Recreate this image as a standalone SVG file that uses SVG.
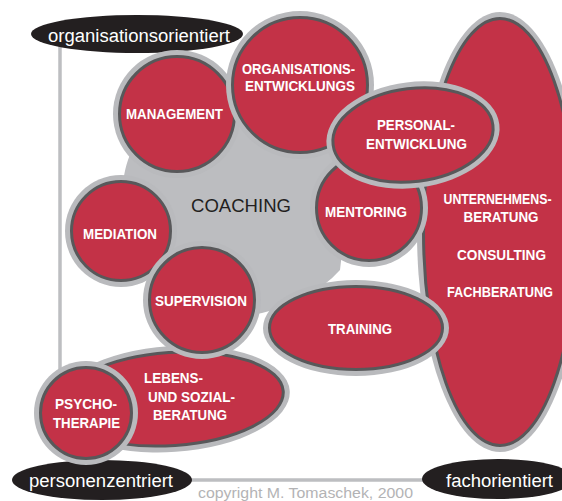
<svg xmlns="http://www.w3.org/2000/svg" width="562" height="501" viewBox="0 0 562 501">
<style>
.axis{stroke:#bdbec1;stroke-width:3.5;fill:none}
.halo{fill:#b9babd}
.body{fill:#c33247;stroke:#58585a;stroke-width:3}
.coach{fill:#bcbdc0}
.lbl{fill:#231f20}
.t{font-family:"Liberation Sans",Arial,Helvetica,sans-serif;font-weight:bold;font-size:15px;fill:#ffffff;text-anchor:middle}
.lt{font-family:"Liberation Sans",Arial,Helvetica,sans-serif;font-size:18px;fill:#ffffff;text-anchor:middle}
.ct{font-family:"Liberation Sans",Arial,Helvetica,sans-serif;font-size:19px;fill:#231f20;text-anchor:middle}
.cp{font-family:"Liberation Sans",Arial,Helvetica,sans-serif;font-size:14px;fill:#b3b3b5}
</style>
<g id="connectors">
<line class="axis" x1="60" y1="45" x2="60" y2="420"/>
<line class="axis" x1="170" y1="480" x2="440" y2="480"/>
</g>
<g id="label-organisationsorientiert">
<ellipse class="lbl" cx="137" cy="34" rx="106" ry="19"/>
<text class="lt" x="139" y="41.5" textLength="182" lengthAdjust="spacingAndGlyphs">organisationsorientiert</text>
</g>
<g id="label-personenzentriert">
<ellipse class="lbl" cx="102" cy="480" rx="90" ry="20"/>
<text class="lt" x="101" y="486.5" textLength="144" lengthAdjust="spacingAndGlyphs">personenzentriert</text>
</g>
<g id="label-fachorientiert">
<ellipse class="lbl" cx="498" cy="479" rx="76" ry="20"/>
<text class="lt" x="499.5" y="486.5" textLength="107" lengthAdjust="spacingAndGlyphs">fachorientiert</text>
</g>
<text class="cp" x="198" y="498" textLength="215" lengthAdjust="spacingAndGlyphs">copyright M. Tomaschek, 2000</text>
<g id="unternehmensberatung">
<ellipse class="halo" cx="500" cy="232" rx="83" ry="220"/>
<ellipse class="body" cx="500" cy="232" rx="76.5" ry="213.5"/>
<text class="t" x="497.5" y="204" textLength="108" lengthAdjust="spacingAndGlyphs">UNTERNEHMENS-</text>
<text class="t" x="501" y="222" textLength="75" lengthAdjust="spacingAndGlyphs">BERATUNG</text>
<text class="t" x="501.5" y="260" textLength="89" lengthAdjust="spacingAndGlyphs">CONSULTING</text>
<text class="t" x="500" y="297" textLength="106" lengthAdjust="spacingAndGlyphs">FACHBERATUNG</text>
</g>
<g id="coaching">
<path class="coach" d="M128,160 C140,120 220,108 290,122 C330,130 348,150 348,200 L340,270 C320,292 292,306 262,313 C220,322 160,292 140,262 C120,232 118,190 128,160 Z"/>
<text class="ct" x="241" y="211.5" textLength="100" lengthAdjust="spacingAndGlyphs">COACHING</text>
</g>
<g id="management">
<circle class="halo" cx="177" cy="114" r="64"/>
<circle class="body" cx="177" cy="114" r="57.5"/>
<text class="t" x="174.5" y="119" textLength="97" lengthAdjust="spacingAndGlyphs">MANAGEMENT</text>
</g>
<g id="organisationsentwicklungs">
<circle class="halo" cx="300" cy="85" r="74"/>
<circle class="body" cx="300" cy="85" r="67.5"/>
<text class="t" x="298.5" y="73.5" textLength="113" lengthAdjust="spacingAndGlyphs">ORGANISATIONS-</text>
<text class="t" x="300" y="91" textLength="110" lengthAdjust="spacingAndGlyphs">ENTWICKLUNGS</text>
</g>
<g id="mentoring">
<circle class="halo" cx="369" cy="208" r="59"/>
<circle class="body" cx="369" cy="208" r="52.5"/>
<text class="t" x="366" y="217" textLength="82" lengthAdjust="spacingAndGlyphs">MENTORING</text>
</g>
<g id="personalentwicklung">
<ellipse class="halo" cx="413" cy="135" rx="87" ry="53" transform="rotate(-7 413 135)"/>
<ellipse class="body" cx="413" cy="135" rx="80.5" ry="46.5" transform="rotate(-7 413 135)"/>
<text class="t" x="416" y="130" textLength="78" lengthAdjust="spacingAndGlyphs">PERSONAL-</text>
<text class="t" x="416.5" y="148.5" textLength="101" lengthAdjust="spacingAndGlyphs">ENTWICKLUNG</text>
</g>
<g id="mediation">
<circle class="halo" cx="121" cy="231" r="56"/>
<circle class="body" cx="121" cy="231" r="49.5"/>
<text class="t" x="120" y="239" textLength="74" lengthAdjust="spacingAndGlyphs">MEDIATION</text>
</g>
<g id="training">
<ellipse class="halo" cx="356" cy="328" rx="93" ry="48"/>
<ellipse class="body" cx="356" cy="328" rx="86.5" ry="41.5"/>
<text class="t" x="360" y="334" textLength="64" lengthAdjust="spacingAndGlyphs">TRAINING</text>
</g>
<g id="lebensberatung">
<ellipse class="halo" cx="172" cy="399" rx="118" ry="53" transform="rotate(-4 172 399)"/>
<ellipse class="body" cx="172" cy="399" rx="111.5" ry="46.5" transform="rotate(-4 172 399)"/>
<text class="t" x="173.5" y="383" textLength="59" lengthAdjust="spacingAndGlyphs">LEBENS-</text>
<text class="t" x="191.5" y="402" textLength="87" lengthAdjust="spacingAndGlyphs">UND SOZIAL-</text>
<text class="t" x="190" y="420" textLength="74" lengthAdjust="spacingAndGlyphs">BERATUNG</text>
</g>
<g id="supervision">
<circle class="halo" cx="202" cy="300" r="59"/>
<circle class="body" cx="202" cy="300" r="52.5"/>
<text class="t" x="201" y="306" textLength="92" lengthAdjust="spacingAndGlyphs">SUPERVISION</text>
</g>
<g id="psychotherapie">
<circle class="halo" cx="86" cy="413" r="52"/>
<circle class="body" cx="86" cy="413" r="45.5"/>
<text class="t" x="86" y="409" textLength="62" lengthAdjust="spacingAndGlyphs">PSYCHO-</text>
<text class="t" x="86.5" y="427.5" textLength="67" lengthAdjust="spacingAndGlyphs">THERAPIE</text>
</g>
</svg>
